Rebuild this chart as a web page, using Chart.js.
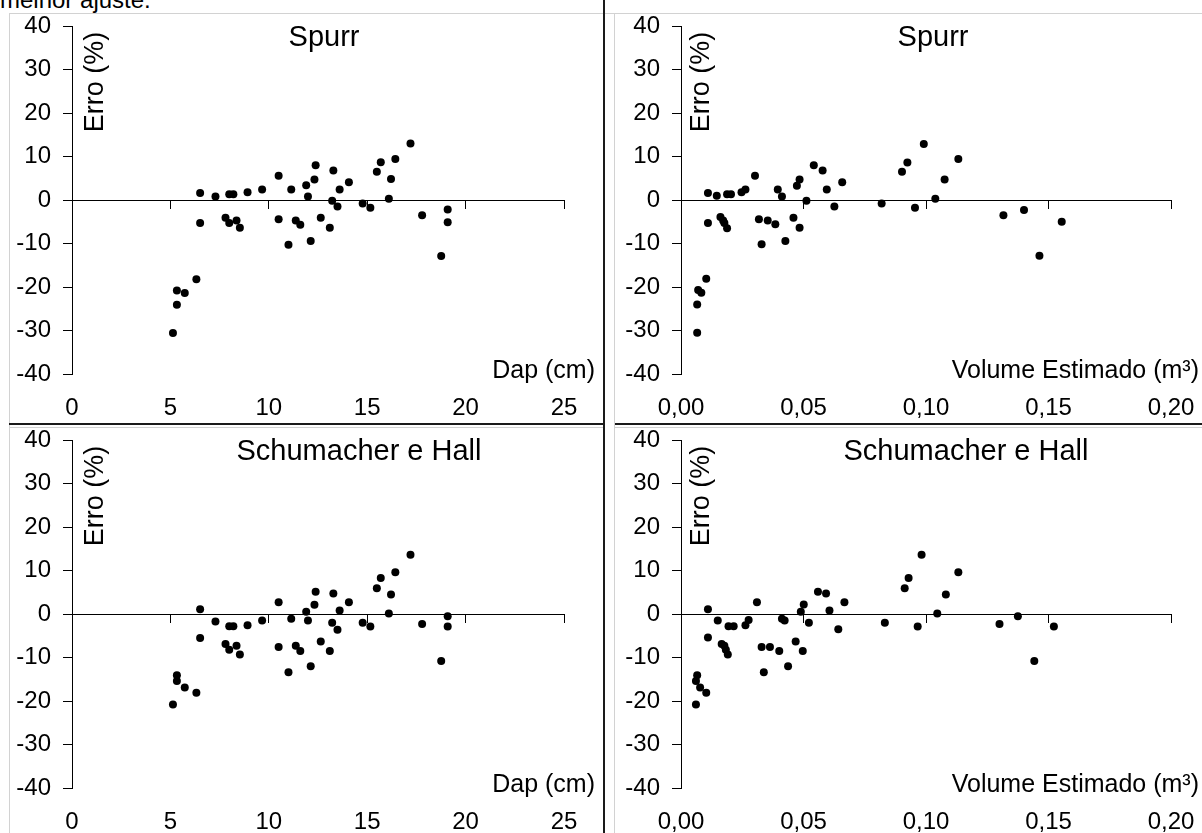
<!DOCTYPE html>
<html>
<head>
<meta charset="utf-8">
<script src="https://cdn.jsdelivr.net/npm/chart.js@4.4.1/dist/chart.umd.min.js"></script>
<style>
  html, body { margin: 0; padding: 0; background: #fff; }
  body { width: 1202px; height: 833px; position: relative; overflow: hidden; font-family: "Liberation Sans", Arial, sans-serif; }
  canvas { position: absolute; }
  .ln { position: absolute; z-index: 5; }
  .gray { background: #d2d2d2; }
  .dark { background: #1a1a1a; }
  #cut { position: absolute; left: 0; top: -12px; font-size: 24px; line-height: 24px; color: #000; white-space: nowrap; }
</style>
</head>
<body>
<div id="cut">melhor ajuste.</div>

<canvas id="c1" width="604" height="424" style="left:0;top:0"></canvas>
<canvas id="c2" width="602" height="424" style="left:600px;top:0"></canvas>
<canvas id="c3" width="604" height="419" style="left:0;top:414px"></canvas>
<canvas id="c4" width="602" height="419" style="left:600px;top:414px"></canvas>

<!-- molduras -->
<div class="ln gray" style="left:9px;top:13px;width:1193px;height:1px"></div>
<div class="ln gray" style="left:9px;top:13px;width:1px;height:820px"></div>
<div class="ln gray" style="left:614px;top:13px;width:1px;height:820px"></div>
<div class="ln dark" style="left:603px;top:0;width:2px;height:833px"></div>
<div class="ln dark" style="left:9px;top:423px;width:594px;height:2px"></div>
<div class="ln dark" style="left:615px;top:423px;width:587px;height:2px"></div>
<div class="ln gray" style="left:9px;top:427px;width:594px;height:1px"></div>
<div class="ln gray" style="left:615px;top:427px;width:587px;height:1px"></div>

<script>
// Spurr - erro x Dap
const spurrDap = [5.13, 5.33, 5.33, 5.73, 6.32, 6.51, 6.51, 7.29, 7.8, 7.99, 7.99, 8.2, 8.36, 8.53, 8.92, 9.66,
  10.5, 10.5, 11.0, 11.14, 11.37, 11.6, 11.9, 11.99, 12.13, 12.32, 12.38, 12.64, 13.1, 13.22, 13.28, 13.49,
  13.6, 14.07, 14.77, 15.16, 15.49, 15.69, 16.1, 16.21, 16.43, 17.2, 17.79, 18.76, 19.09, 19.09];
const spurrErroDap = [-30.6, -24.1, -20.8, -21.4, -18.2, 1.6, -5.3, 0.8, -4.1, -5.3, 1.3, 1.3, -4.7, -6.4, 1.8, 2.4,
  5.6, -4.4, -10.3, 2.4, -4.7, -5.7, 3.4, 0.8, -9.4, 4.7, 8.0, -4.1, -6.4, -0.2, 6.8, -1.5,
  2.4, 4.1, -0.8, -1.8, 6.5, 8.7, 0.3, 4.8, 9.4, 13.0, -3.5, -12.9, -2.2, -5.1];

// Spurr - erro x volume estimado
const spurrVol = [0.0066, 0.0066, 0.0070, 0.0083, 0.0103, 0.0110, 0.0110, 0.0146, 0.0161, 0.0172, 0.0177, 0.0188,
  0.0188, 0.0204, 0.0247, 0.0263, 0.0302, 0.0318, 0.0329, 0.0354, 0.0385, 0.0395, 0.0412, 0.0426, 0.0459,
  0.0473, 0.0484, 0.0484, 0.0512, 0.0542, 0.0578, 0.0595, 0.0626, 0.0658, 0.0819, 0.0902, 0.0924, 0.0955,
  0.0991, 0.1038, 0.1076, 0.1132, 0.1316, 0.1400, 0.1463, 0.1554];
const spurrErroVol = [-30.5, -24.0, -20.7, -21.3, -18.1, 1.6, -5.3, 1.0, -3.9, -4.7, -5.3, -6.5,
  1.3, 1.3, 1.8, 2.4, 5.6, -4.4, -10.2, -4.7, -5.6, 2.4, 0.8, -9.4, -4.1,
  3.3, 4.7, -6.4, -0.2, 8.0, 6.8, 2.4, -1.5, 4.1, -0.8, 6.5, 8.6, -1.8,
  12.9, 0.3, 4.7, 9.4, -3.5, -2.3, -12.8, -5.0];

// Schumacher e Hall - erro x Dap
const shDap = spurrDap;
const shErroDap = [-20.8, -14.1, -15.4, -16.9, -18.1, 1.1, -5.5, -1.7, -6.9, -8.2, -2.8, -2.8, -7.3, -9.3, -2.6, -1.5,
  2.7, -7.6, -13.4, -1.1, -7.3, -8.5, 0.5, -1.5, -12.0, 2.1, 5.1, -6.3, -8.5, -2.0, 4.7, -3.6,
  0.8, 2.7, -2.0, -2.9, 5.9, 8.3, 0.1, 4.5, 9.6, 13.6, -2.3, -10.8, -0.5, -2.9];

// Schumacher e Hall - erro x volume estimado
const shVol = [0.0061, 0.0066, 0.0061, 0.0078, 0.0103, 0.0110, 0.0110, 0.0150, 0.0166, 0.0177, 0.0183, 0.0191,
  0.0194, 0.0215, 0.0263, 0.0276, 0.0310, 0.0329, 0.0338, 0.0363, 0.0401, 0.0412, 0.0423, 0.0437, 0.0468,
  0.0489, 0.0501, 0.0497, 0.0522, 0.0559, 0.0592, 0.0606, 0.0642, 0.0667, 0.0832, 0.0913, 0.0929, 0.0966,
  0.0982, 0.1046, 0.1081, 0.1132, 0.1300, 0.1375, 0.1442, 0.1522];
const shErroVol = [-20.8, -14.1, -15.4, -16.9, -18.1, 1.1, -5.4, -1.5, -6.9, -7.3, -8.2, -9.3,
  -2.8, -2.8, -2.6, -1.4, 2.7, -7.6, -13.4, -7.6, -8.5, -1.1, -1.5, -12.0, -6.3,
  0.5, 2.2, -8.5, -2.0, 5.1, 4.7, 0.8, -3.5, 2.7, -2.0, 5.9, 8.3, -2.9,
  13.6, 0.1, 4.5, 9.6, -2.3, -0.5, -10.8, -2.9];

const yTicks = { min: -40, max: 40, step: 10 };
const dapAxis = { min: 0, max: 25, step: 5 };
const volAxis = { min: 0, max: 0.20, step: 0.05 };

const FONT = '"Liberation Sans", Arial, sans-serif';

// textos dentro do painel: titulo, Erro (%) e nome do eixo x
const panelText = {
  id: 'panelText',
  afterDraw(chart, args, o) {
    const ctx = chart.ctx;
    const a = chart.chartArea;
    ctx.save();
    ctx.fillStyle = '#000';
    ctx.textBaseline = 'alphabetic';

    ctx.font = '29px ' + FONT;
    ctx.textAlign = 'center';
    ctx.fillText(o.title, (a.left + a.right) / 2 + o.titleShift, a.top + 20);

    ctx.font = '25px ' + FONT;
    ctx.textAlign = 'right';
    ctx.fillText(o.xTitle, a.right + o.xTitleShift, a.bottom + 4);

    ctx.translate(a.left + o.yTitleX, a.top + 56);
    ctx.rotate(-Math.PI / 2);
    ctx.font = '27px ' + FONT;
    ctx.textAlign = 'center';
    ctx.textBaseline = 'middle';
    ctx.fillText('Erro (%)', 0, 0);
    ctx.restore();
  }
};

// a area do grafico fica so com o padding do layout
function noPad(scale) {
  scale.paddingLeft = 0;
  scale.paddingRight = 0;
  scale.paddingTop = 0;
  scale.paddingBottom = 0;
}

function makePanel(id, xs, ys, cfg) {
  const pts = xs.map((x, i) => ({ x: x, y: ys[i] }));
  new Chart(document.getElementById(id), {
    type: 'scatter',
    data: {
      datasets: [{
        data: pts,
        pointRadius: 4,
        pointHoverRadius: 4,
        pointBackgroundColor: '#000',
        pointBorderColor: '#000',
        pointBorderWidth: 0
      }]
    },
    options: {
      responsive: false,
      animation: false,
      events: [],
      layout: { padding: { top: 26, right: cfg.padRight, left: 0, bottom: 0 } },
      plugins: {
        legend: { display: false },
        tooltip: { enabled: false },
        panelText: {
          title: cfg.title,
          titleShift: cfg.titleShift,
          xTitle: cfg.xTitle,
          xTitleShift: cfg.xTitleShift,
          yTitleX: cfg.yTitleX
        }
      },
      scales: {
        x: {
          type: 'linear',
          position: 'bottom',
          min: cfg.axis.min,
          max: cfg.axis.max,
          border: { display: false },
          grid: { display: false },
          ticks: {
            stepSize: cfg.axis.step,
            padding: 12,
            maxRotation: 0,
            autoSkip: false,
            color: '#000',
            font: { family: FONT, size: 24 },
            callback: cfg.fmt
          },
          afterFit: function(scale) { scale.height = cfg.xHeight; noPad(scale); }
        },
        xz: {
          type: 'linear',
          axis: 'x',
          position: { y: 0 },
          min: cfg.axis.min,
          max: cfg.axis.max,
          border: { display: true, color: '#000', width: 1 },
          grid: { drawOnChartArea: false, drawTicks: true, tickLength: 8, color: '#000' },
          ticks: { display: false, stepSize: cfg.axis.step },
          afterFit: noPad
        },
        y: {
          min: yTicks.min,
          max: yTicks.max,
          border: { display: true, color: '#000', width: 1 },
          grid: { drawOnChartArea: false, drawTicks: true, tickLength: 9, color: '#000' },
          ticks: {
            stepSize: yTicks.step,
            padding: 12,
            color: '#000',
            font: { family: FONT, size: 24 }
          },
          afterFit: function(scale) { scale.width = cfg.yWidth; noPad(scale); }
        }
      }
    },
    plugins: [panelText]
  });
}

const fmtDap = v => String(v);
const fmtVol = v => v.toFixed(2).replace('.', ',');

makePanel('c1', spurrDap, spurrErroDap, {
  title: 'Spurr', titleShift: 6, xTitle: 'Dap (cm)', xTitleShift: 31, yTitleX: 24,
  axis: dapAxis, fmt: fmtDap, padRight: 40, yWidth: 72, xHeight: 50
});
makePanel('c2', spurrVol, spurrErroVol, {
  title: 'Spurr', titleShift: 7, xTitle: 'Volume Estimado (m³)', xTitleShift: 28, yTitleX: 21,
  axis: volAxis, fmt: fmtVol, padRight: 31, yWidth: 81, xHeight: 50
});
makePanel('c3', shDap, shErroDap, {
  title: 'Schumacher e Hall', titleShift: 41, xTitle: 'Dap (cm)', xTitleShift: 31, yTitleX: 24,
  axis: dapAxis, fmt: fmtDap, padRight: 40, yWidth: 72, xHeight: 45
});
makePanel('c4', shVol, shErroVol, {
  title: 'Schumacher e Hall', titleShift: 40, xTitle: 'Volume Estimado (m³)', xTitleShift: 28, yTitleX: 21,
  axis: volAxis, fmt: fmtVol, padRight: 31, yWidth: 81, xHeight: 45
});
</script>
</body>
</html>
